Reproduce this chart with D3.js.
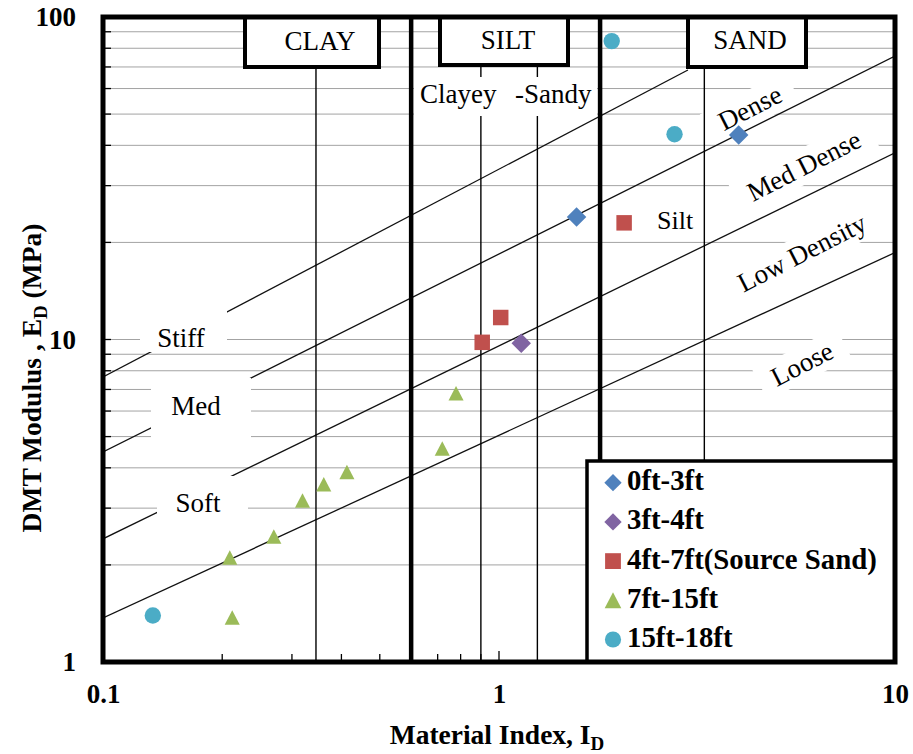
<!DOCTYPE html>
<html>
<head>
<meta charset="utf-8">
<script src="https://cdn.jsdelivr.net/npm/d3@7"></script>
<style>
  body { margin: 0; background: #fff; }
  svg { display: block; }
</style>
</head>
<body>
<svg id="chart" width="913" height="754"></svg>
<script>
// ---- Data: [Material Index I_D, DMT Modulus E_D (MPa)] per depth range ----
const depth0to3   = [[1.57, 24.0], [4.03, 43.1]];
const depth3to4   = [[1.138, 9.73]];
const depth4to7   = [[0.907, 9.8], [1.01, 11.7], [2.07, 23.0]];
const depth7to15  = [[0.209, 2.11], [0.212, 1.374], [0.270, 2.45], [0.319, 3.17],
                     [0.361, 3.56], [0.413, 3.88], [0.719, 4.59], [0.779, 6.81]];
const depth15to18 = [[0.1336, 1.394], [1.926, 84.2], [2.775, 43.3]];
const seriesNames = ["0ft-3ft", "3ft-4ft", "4ft-7ft(Source Sand)", "7ft-15ft", "15ft-18ft"];
const seriesColors = ["#4F81BD", "#8064A2", "#C0504D", "#9BBB59", "#4BACC6"];

// Soil-type boundaries along I_D
const majorBounds = [0.6, 1.8];
const minorBounds = [0.345, 0.9, 1.25, 3.3];
const zoneNames = ["CLAY", "SILT", "SAND"];

// Consistency / density boundary lines, end points as [I_D, E_D]
const looseLine  = [[0.1, 1.369], [10, 18.6]];
const lowLine    = [[0.1, 2.41], [10, 37.9]];
const medLine    = [[0.1, 4.48], [10, 75.7]];
const denseLine  = [[0.1, 7.65], [3.0, 68.5]];

// Axis tick labels
const xTicks = [0.1, 1, 10];
const yTicks = [1, 10, 100];

// ---- Layout ----
const FONT = "Liberation Serif";
const svg = d3.select("#chart");
const P = { left: 103, right: 895, top: 17, bottom: 662 };
const x = d3.scaleLog().domain([0.1, 10]).range([P.left, P.right]);
const y = d3.scaleLog().domain([1, 100]).range([P.bottom, P.top]);

svg.append("rect").attr("width", 913).attr("height", 754).attr("fill", "#fff");
svg.append("clipPath").attr("id", "plotClip")
  .append("rect").attr("x", P.left).attr("y", P.top)
  .attr("width", P.right - P.left).attr("height", P.bottom - P.top);

const plot = svg.append("g").attr("clip-path", "url(#plotClip)");

// Horizontal grid at every log tick
const gridVals = y.ticks().filter(v => v > 1 && v < 100);
plot.append("g").selectAll("line").data(gridVals).join("line")
  .attr("x1", P.left).attr("x2", P.right)
  .attr("y1", d => y(d)).attr("y2", d => y(d))
  .attr("stroke", "#a3a3a3").attr("stroke-width", 1);

// Inside ticks on left and bottom edges
plot.append("g").selectAll("line").data(gridVals).join("line")
  .attr("x1", P.left).attr("x2", P.left + 8)
  .attr("y1", d => y(d)).attr("y2", d => y(d))
  .attr("stroke", "#000").attr("stroke-width", 1.3);
plot.append("g").selectAll("line").data(x.ticks().filter(v => v > 0.1 && v < 10)).join("line")
  .attr("x1", d => x(d)).attr("x2", d => x(d))
  .attr("y1", P.bottom).attr("y2", d => P.bottom - (d === 1 ? 11 : 8))
  .attr("stroke", "#000").attr("stroke-width", 1.3);

// Rotated density labels (white backing first so the grid breaks around them)
const rotLabels = [
  { t: "Dense",       cx: 750, cy: 108 },
  { t: "Med Dense",   cx: 804, cy: 166 },
  { t: "Low Density", cx: 802, cy: 253 },
  { t: "Loose",       cx: 802, cy: 364 }
];
const rotAngle = -27;
const rotG = plot.append("g");
rotLabels.forEach(l => {
  const g = rotG.append("g").attr("transform", `translate(${l.cx},${l.cy}) rotate(${rotAngle})`);
  const t = g.append("text").attr("text-anchor", "middle").attr("font-family", FONT)
    .attr("font-size", 27).text(l.t);
  const w = t.node().getComputedTextLength();
  g.insert("rect", "text").attr("x", -w / 2 - 14).attr("y", -17).attr("width", w + 28).attr("height", 34)
    .attr("fill", "#fff");
  t.remove();
});

// Boundary lines
const line = d3.line().x(d => x(d[0])).y(d => y(d[1]));
plot.append("g").selectAll("path").data([looseLine, lowLine, medLine, denseLine]).join("path")
  .attr("d", line).attr("fill", "none").attr("stroke", "#111").attr("stroke-width", 1.3);

// Soil-type vertical boundaries
plot.append("g").selectAll("line").data(minorBounds).join("line")
  .attr("x1", d => x(d)).attr("x2", d => x(d)).attr("y1", P.top).attr("y2", P.bottom)
  .attr("stroke", "#000").attr("stroke-width", 1.4);
plot.append("g").selectAll("line").data(majorBounds).join("line")
  .attr("x1", d => x(d)).attr("x2", d => x(d)).attr("y1", P.top).attr("y2", P.bottom)
  .attr("stroke", "#000").attr("stroke-width", 4.5);

// Consistency labels with white backing
const flatLabels = [
  { t: "Stiff", tx: 181, ty: 347, box: [140, 310, 227, 352] },
  { t: "Med",   tx: 196, ty: 415, box: [151, 378, 251, 448] },
  { t: "Soft",  tx: 198, ty: 512, box: [157, 476, 248, 522] }
];
const flatG = plot.append("g");
flatLabels.forEach(l => {
  flatG.append("rect").attr("x", l.box[0]).attr("y", l.box[1])
    .attr("width", l.box[2] - l.box[0]).attr("height", l.box[3] - l.box[1]).attr("fill", "#fff");
  flatG.append("text").attr("x", l.tx).attr("y", l.ty).attr("text-anchor", "middle")
    .attr("font-size", 27).text(l.t);
});
flatG.append("rect").attr("x", 414).attr("y", 77).attr("width", 183).attr("height", 39).attr("fill", "#fff");
flatG.append("text").attr("x", 420).attr("y", 103).attr("font-size", 27).text("Clayey");
flatG.append("text").attr("x", 515).attr("y", 103).attr("font-size", 27).text("-Sandy");
flatG.append("text").attr("x", 657).attr("y", 229).attr("font-size", 26).text("Silt");

// Rotated label text
rotLabels.forEach(l => {
  plot.append("text").attr("transform", `translate(${l.cx},${l.cy}) rotate(${rotAngle})`)
    .attr("text-anchor", "middle").attr("dy", "0.33em")
    .attr("font-size", 27).text(l.t);
});

// Zone header boxes
const zoneBoxes = [
  { x0: 245, x1: 379, y0: 17, y1: 67, tx: 320, ty: 50 },
  { x0: 440, x1: 568, y0: 17, y1: 65, tx: 508, ty: 49 },
  { x0: 688, x1: 806, y0: 17, y1: 67, tx: 750, ty: 49 }
];
zoneBoxes.forEach((b, i) => {
  svg.append("rect").attr("x", b.x0).attr("y", b.y0).attr("width", b.x1 - b.x0).attr("height", b.y1 - b.y0)
    .attr("fill", "#fff").attr("stroke", "#000").attr("stroke-width", 4);
  svg.append("text").attr("x", b.tx).attr("y", b.ty).attr("text-anchor", "middle")
    .attr("font-size", 27).text(zoneNames[i]);
});

// Marker shapes
const diamondType = { draw(ctx, size) { const r = Math.sqrt(size) / 2; ctx.moveTo(0, -r); ctx.lineTo(r, 0); ctx.lineTo(0, r); ctx.lineTo(-r, 0); ctx.closePath(); } };
const triangleType = { draw(ctx, size) { const h = Math.sqrt(size); ctx.moveTo(0, -h / 2); ctx.lineTo(h * 0.52, h / 2); ctx.lineTo(-h * 0.52, h / 2); ctx.closePath(); } };
const shapes = [diamondType, diamondType, d3.symbolSquare, triangleType, d3.symbolCircle];
const plotSizes = [380, 380, 240, 210, 211];
const legendSizes = [300, 300, 250, 256, 205];
const allSeries = [depth0to3, depth3to4, depth4to7, depth7to15, depth15to18];

const pts = svg.append("g");
allSeries.forEach((s, i) => {
  pts.append("g").selectAll("path").data(s).join("path")
    .attr("transform", d => `translate(${x(d[0])},${y(d[1])})`)
    .attr("d", d3.symbol().type(shapes[i]).size(plotSizes[i]))
    .attr("fill", seriesColors[i]);
});

// Legend
const leg = svg.append("g");
leg.append("rect").attr("x", 587).attr("y", 461).attr("width", P.right - 587).attr("height", P.bottom - 461)
  .attr("fill", "#fff").attr("stroke", "#000").attr("stroke-width", 3.5);
seriesNames.forEach((n, i) => {
  const cy = 482.7 + i * 39.2;
  leg.append("path").attr("transform", `translate(613,${cy})`)
    .attr("d", d3.symbol().type(shapes[i]).size(legendSizes[i])).attr("fill", seriesColors[i]);
  leg.append("text").attr("x", 627).attr("y", cy + 7.5).attr("font-size", 28.8)
    .attr("font-weight", "bold").text(n);
});

// Plot frame
svg.append("rect").attr("x", P.left).attr("y", P.top).attr("width", P.right - P.left)
  .attr("height", P.bottom - P.top).attr("fill", "none").attr("stroke", "#000").attr("stroke-width", 5);

// Axes labels
const xAxis = svg.append("g").attr("transform", `translate(0,${P.bottom})`)
  .call(d3.axisBottom(x).tickValues(xTicks).tickSize(0).tickPadding(22).tickFormat(d3.format("~g")));
const yAxis = svg.append("g").attr("transform", `translate(${P.left},0)`)
  .call(d3.axisLeft(y).tickValues(yTicks).tickSize(0).tickPadding(27).tickFormat(d3.format("~g")));
[xAxis, yAxis].forEach(a => {
  a.select(".domain").remove();
  a.selectAll("text").attr("font-size", 27).attr("font-weight", "bold").attr("fill", "#000");
});

// Axis titles
const xt = svg.append("text").attr("x", 497).attr("y", 744).attr("text-anchor", "middle")
  .attr("font-size", 27.5).attr("font-weight", "bold");
xt.append("tspan").text("Material Index, I");
xt.append("tspan").attr("font-size", 19).attr("dy", 6).text("D");

const yt = svg.append("text").attr("transform", "translate(41,378) rotate(-90)")
  .attr("text-anchor", "middle").attr("font-size", 27.5).attr("font-weight", "bold");
yt.append("tspan").text("DMT Modulus , E");
yt.append("tspan").attr("font-size", 19).attr("dy", 6).text("D");
yt.append("tspan").attr("dy", -6).text(" (MPa)");

// Serif face on every text run
svg.selectAll("text, tspan").attr("font-family", FONT);
</script>
</body>
</html>
